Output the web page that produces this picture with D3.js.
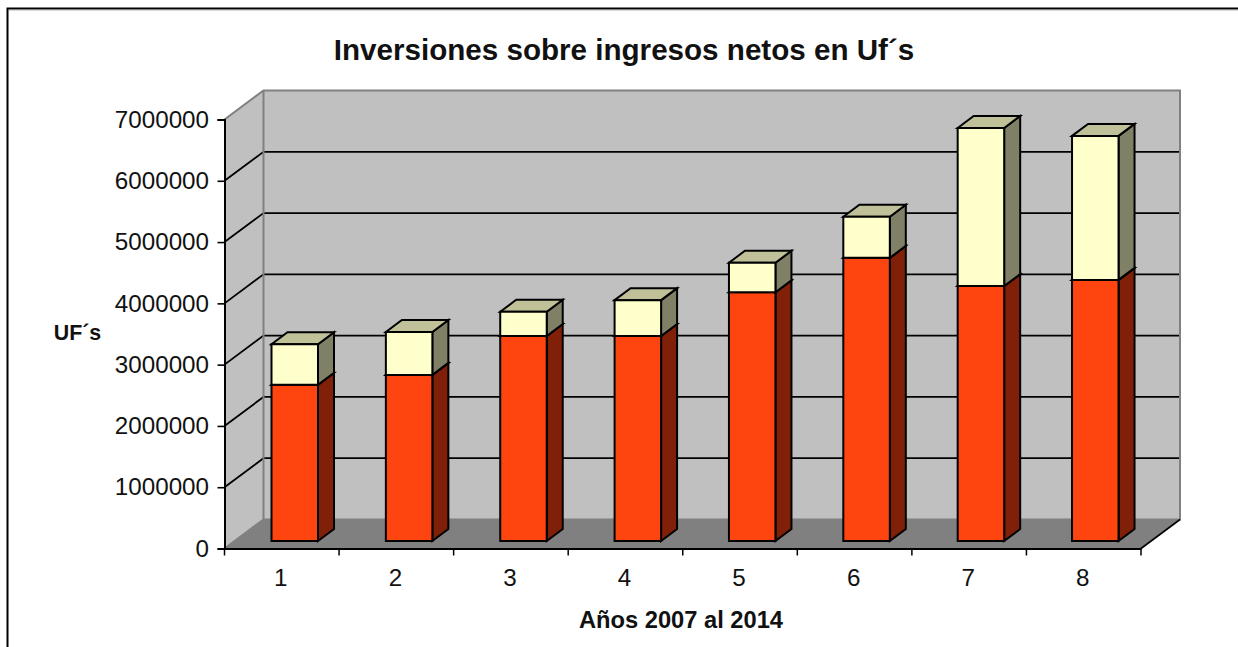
<!DOCTYPE html>
<html>
<head>
<meta charset="utf-8">
<script src="https://cdn.jsdelivr.net/npm/d3@7"></script>
<style>
  html, body { margin: 0; padding: 0; background: #fff; overflow: hidden; }
  text { font-family: "Liberation Sans", Arial, sans-serif; fill: #111; }
</style>
</head>
<body>
<svg id="drawing_region"></svg>
<script>
const categories = ["1", "2", "3", "4", "5", "6", "7", "8"];
const inversiones = [2550000, 2710000, 3345000, 3345000, 4060000, 4620000, 4160000, 4260000];
const ingresos = [660000, 700000, 395000, 585000, 480000, 670000, 2580000, 2350000];
const yTicks = [0, 1000000, 2000000, 3000000, 4000000, 5000000, 6000000, 7000000];

const width = 1238, height = 647;
const x0 = 224.5, x1 = 1141, y0 = 548.5, y7 = 119.5;
// depth of the box and of the bars
const depth = {x: 39, y: -29};
const bar = {dx: 16, dy: -12, left: 47, width: 46.5, base: -7.5};

const svg = d3.select('#drawing_region')
    .attr('width', width)
    .attr('height', height);

const xscale = d3.scaleBand().domain(categories).range([x0, x1]);
const yscale = d3.scaleLinear().domain([0, 7000000]).range([y0, y7]);

const poly = (pts, fill, stroke, sw) => svg.append('polygon')
    .attr('points', pts.map(p => p.join(',')).join(' '))
    .attr('fill', fill)
    .attr('stroke', stroke)
    .attr('stroke-width', sw)
    .attr('stroke-linejoin', 'miter');

// frame
svg.append('path')
    .attr('d', `M7.5,${height} V8.5 H${width}`)
    .attr('fill', 'none').attr('stroke', '#000').attr('stroke-width', 2);
svg.append('path')
    .attr('d', `M${width},9.9 H9`)
    .attr('fill', 'none').attr('stroke', '#888').attr('stroke-width', 0.8);

// walls and floor
const yTop = yscale(7000000), yBot = yscale(0);
poly([[x0, yTop], [x0 + depth.x, yTop + depth.y], [x1 + depth.x, yTop + depth.y], [x1 + depth.x, yBot + depth.y], [x0 + depth.x, yBot + depth.y], [x0, yBot]], '#c0c0c0', 'none', 0);
poly([[x0, yBot], [x0 + depth.x, yBot + depth.y], [x1 + depth.x, yBot + depth.y], [x1, yBot]], '#808080', 'none', 0);

// gridlines
yTicks.slice(1, -1).forEach(t => {
    svg.append('polyline')
        .attr('points', `${x0},${yscale(t)} ${x0 + depth.x},${yscale(t) + depth.y} ${x1 + depth.x - 1},${yscale(t) + depth.y}`)
        .attr('fill', 'none').attr('stroke', '#000').attr('stroke-width', 1.8);
});

// wall edges
svg.append('path')
    .attr('d', `M${x0},${yTop} L${x0 + depth.x},${yTop + depth.y} H${x1 + depth.x} V${yBot + depth.y} H${x0 + depth.x} V${yTop + depth.y} M${x0 + depth.x},${yBot + depth.y} L${x0},${yBot}`)
    .attr('fill', 'none').attr('stroke', '#808080').attr('stroke-width', 2);
svg.append('line')
    .attr('x1', x1).attr('y1', yBot).attr('x2', x1 + depth.x).attr('y2', yBot + depth.y)
    .attr('stroke', '#000').attr('stroke-width', 1.6);

// stacked boxes
const drawBox = (i, from, to, front, side, top) => {
    const x = xscale(categories[i]) + bar.left - i * 0.2;
    const w = bar.width;
    const yb = yscale(from) + bar.base;
    const yt = yscale(to) + bar.base;
    poly([[x + w, yb], [x + w + bar.dx, yb + bar.dy], [x + w + bar.dx, yt + bar.dy], [x + w, yt]], side, '#000', 2);
    poly([[x, yt], [x + bar.dx, yt + bar.dy], [x + w + bar.dx, yt + bar.dy], [x + w, yt]], top, '#000', 2);
    poly([[x, yb], [x + w, yb], [x + w, yt], [x, yt]], front, '#000', 2);
};

categories.forEach((c, i) => {
    const a = inversiones[i];
    const b = a + ingresos[i];
    drawBox(i, 0, a, '#ff450f', '#802008', '#802008');
    drawBox(i, a, b, '#ffffcc', '#808066', '#c0c099');
});

// axes
const yaxis = d3.axisLeft(yscale)
    .tickValues(yTicks)
    .tickFormat(d3.format('d'))
    .tickSize(7)
    .tickPadding(8.5);
const xaxis = d3.axisBottom(xscale)
    .tickSize(0)
    .tickPadding(20);

const yaxis_group = svg.append('g')
    .attr('transform', `translate(${x0},0)`)
    .call(yaxis);
const xaxis_group = svg.append('g')
    .attr('transform', `translate(0,${y0})`)
    .call(xaxis);

xaxis_group.selectAll('.tick')
    .attr('transform', d => `translate(${xscale(d) + xscale.step() / 2 - 1},0)`);

// ticks between categories
xaxis_group.selectAll('line.sep')
    .data(d3.range(categories.length + 1))
    .join('line')
    .attr('class', 'sep')
    .attr('x1', i => x0 + i * xscale.step())
    .attr('x2', i => x0 + i * xscale.step())
    .attr('y1', 0).attr('y2', 7)
    .attr('stroke', '#000').attr('stroke-width', 1.5);

[yaxis_group, xaxis_group].forEach(g => {
    g.selectAll('.domain').attr('stroke', '#000').attr('stroke-width', 2);
    g.selectAll('.tick line').attr('stroke', '#000').attr('stroke-width', 1.6);
    g.selectAll('text').attr('font-size', '24.2px').attr('font-family', '"Liberation Sans"').attr('fill', '#111');
});

// titles
svg.append('text')
    .attr('x', 624).attr('y', 60)
    .attr('text-anchor', 'middle')
    .attr('font-size', '29.6px').attr('font-weight', 700)
    .text('Inversiones sobre ingresos netos en Uf´s');
svg.append('text')
    .attr('x', 77.5).attr('y', 340)
    .attr('text-anchor', 'middle')
    .attr('font-size', '21.4px').attr('font-weight', 700)
    .text('UF´s');
svg.append('text')
    .attr('x', 681).attr('y', 627.5)
    .attr('text-anchor', 'middle')
    .attr('font-size', '23.7px').attr('font-weight', 700)
    .text('Años 2007 al 2014');
</script>
</body>
</html>
